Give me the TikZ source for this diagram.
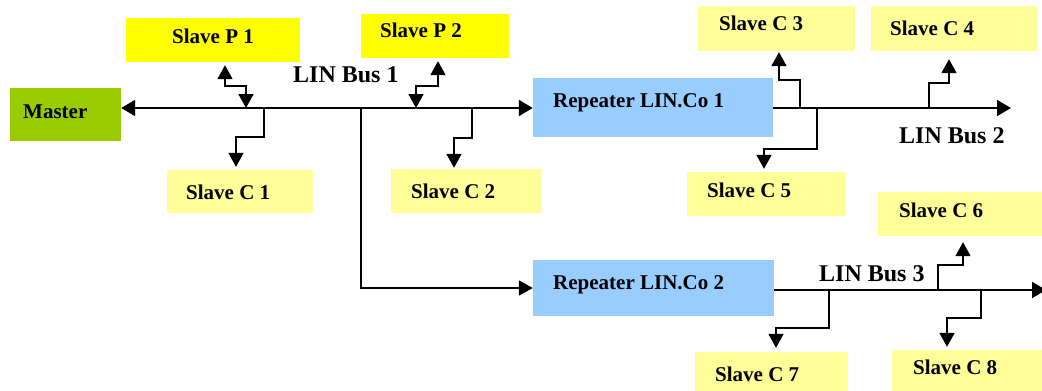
\documentclass[tikz,border=0pt]{standalone}
\usepackage{fontspec}
\setmainfont{Liberation Serif}
\usetikzlibrary{arrows.meta,fit}

\definecolor{mastergreen}{RGB}{153,204,0}
\definecolor{pyellow}{RGB}{255,255,0}
\definecolor{cyellow}{RGB}{255,255,153}
\definecolor{repblue}{RGB}{153,204,255}

\tikzset{
  box/.style={draw=none, inner sep=0pt, fit={#1}},
  masterbox/.style={box={#1}, fill=mastergreen},
  pbox/.style={box={#1}, fill=pyellow},
  cbox/.style={box={#1}, fill=cyellow},
  repbox/.style={box={#1}, fill=repblue},
  lbl/.style={anchor=base west, inner sep=0pt,
    font=\fontsize{21}{25}\selectfont\bfseries},
  buslbl/.style={anchor=base west, inner sep=0pt,
    font=\fontsize{24}{28}\selectfont\bfseries},
  bus/.style={line width=2pt, >={Triangle[length=14pt,width=16pt]}},
  link/.style={line width=1.8pt, >={Triangle[length=14pt,width=15pt]}, shorten >=#1},
  link/.default=3pt
}

\begin{document}
\begin{tikzpicture}[x=1pt,y=-1pt]
\useasboundingbox (0,0) rectangle (1042,391);

% boxes
\node[masterbox={(10,88) (121,141)}] (master) {};
\node[pbox={(126,18) (300,62)}] (p1) {};
\node[cbox={(167,170) (313,213)}] (c1) {};
\node[pbox={(361,14) (509,58)}] (p2) {};
\node[cbox={(391,169) (541,213)}] (c2) {};
\node[repbox={(533,78) (773,137)}] (rep1) {};
\node[cbox={(698,6) (855,51)}] (c3) {};
\node[cbox={(871,6) (1037,51)}] (c4) {};
\node[cbox={(687,172) (846,216)}] (c5) {};
\node[cbox={(878,192) (1046,236)}] (c6) {};
\node[repbox={(533,260) (774,316)}] (rep2) {};
\node[cbox={(695,352) (848,395)}] (c7) {};
\node[cbox={(892,350) (1046,395)}] (c8) {};

% labels
\node[lbl] (mastert) at (23,118) {Master};
\node[lbl] (p1t) at (172,43) {Slave P 1};
\node[lbl] (c1t) at (186,199) {Slave C 1};
\node[lbl] (p2t) at (380,37) {Slave P 2};
\node[lbl] (c2t) at (411,198) {Slave C 2};
\node[lbl] (rep1t) at (553,107) {Repeater LIN.Co 1};
\node[lbl] (c3t) at (719,30) {Slave C 3};
\node[lbl] (c4t) at (890,35) {Slave C 4};
\node[lbl] (c5t) at (707,197) {Slave C 5};
\node[lbl] (c6t) at (899,217) {Slave C 6};
\node[lbl] (rep2t) at (553,289) {Repeater LIN.Co 2};
\node[lbl] (c7t) at (715,381) {Slave C 7};
\node[lbl] (c8t) at (913,374) {Slave C 8};
\node[buslbl] (bus1t) at (293,82) {LIN Bus 1};
\node[buslbl] (bus2t) at (899,143) {LIN Bus 2};
\node[buslbl] (bus3t) at (819,281) {LIN Bus 3};

% bus taps and free ends
\coordinate (jp1) at (246,108);
\coordinate (jc1) at (264,108);
\coordinate (jr2) at (361,108);
\coordinate (jp2) at (416,108);
\coordinate (jc2) at (472,108);
\coordinate (jc3) at (800,108);
\coordinate (jc5) at (817,108);
\coordinate (jc4) at (929,108);
\coordinate (bus2end) at (1011,108);
\coordinate (jc7) at (829,290);
\coordinate (jc6) at (938,290);
\coordinate (jc8) at (981,290);
\coordinate (bus3end) at (1046,290);

% buses
\draw[bus,<->] (master.east |- jp1) -- (rep1.west |- jp1);
\draw[bus,->] (rep1.east |- jp1) -- (bus2end);
\draw[bus,->] (rep2.east |- bus3end) -- (bus3end);
\draw[link=0pt,->] (jr2) |- (rep2.west);

% stubs
\draw[link,<->] (jp1) |- (225,86) -- (225,0 |- p1.south);
\draw[link,->] (jc1) |- (236,137) -- (236,0 |- c1.north);
\draw[link,<->] (jp2) |- (438,86) -- (438,0 |- p2.south);
\draw[link=1pt,->] (jc2) |- (454,138) -- (454,0 |- c2.north);
\draw[link=1pt,->] (jc3) |- (779,80) -- (779,0 |- c3.south);
\draw[link,->] (jc5) |- (764,149) -- (764,0 |- c5.north);
\draw[link=8pt,->] (jc4) |- (949,83) -- (949,0 |- c4.south);
\draw[link=4pt,->] (jc7) |- (776,328) -- (776,0 |- c7.north);
\draw[link=6pt,->] (jc6) |- (963,265) -- (963,0 |- c6.south);
\draw[link,->] (jc8) |- (947,318) -- (947,0 |- c8.north);
\end{tikzpicture}
\end{document}
